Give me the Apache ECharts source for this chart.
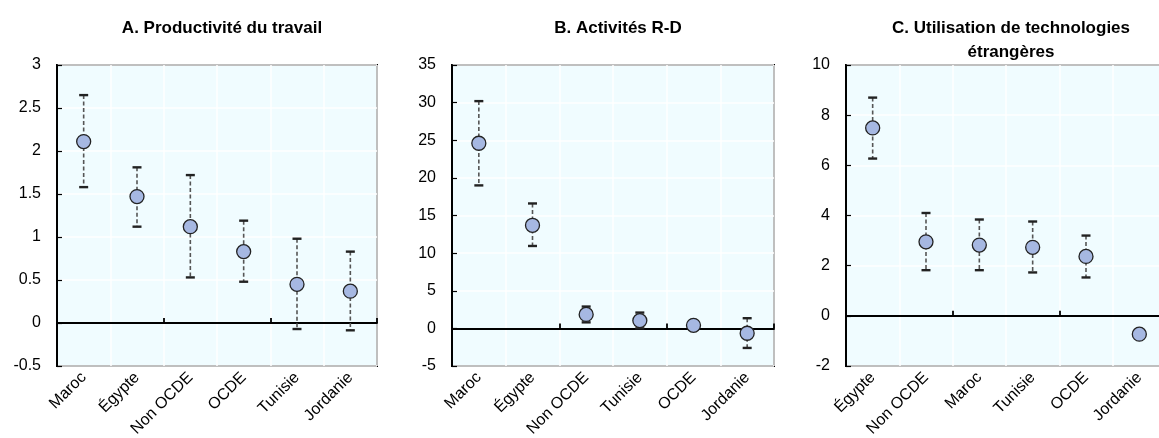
<!DOCTYPE html>
<html>
<head>
<meta charset="utf-8">
<script src="https://cdn.jsdelivr.net/npm/echarts@6/dist/echarts.min.js"></script>
<style>
html,body{margin:0;padding:0;background:#fff;}
#chart{width:1159px;height:438px;}
</style>
</head>
<body>
<div id="chart"></div>
<script>
// Panel A. Productivité du travail
const catsA = ['Maroc', 'Égypte', 'Non OCDE', 'OCDE', 'Tunisie', 'Jordanie'];
const valA  = [2.11, 1.47, 1.12, 0.83, 0.45, 0.37];
const lowA  = [1.58, 1.12, 0.53, 0.48, -0.07, -0.085];
const highA = [2.65, 1.81, 1.72, 1.19, 0.98, 0.83];

// Panel B. Activités R-D
const catsB = ['Maroc', 'Égypte', 'Non OCDE', 'Tunisie', 'OCDE', 'Jordanie'];
const valB  = [24.6, 13.7, 1.85, 1.03, 0.4, -0.65];
const lowB  = [19.0, 10.95, 0.8, 0.0, -0.2, -2.6];
const highB = [30.2, 16.6, 2.9, 2.1, 1.0, 1.35];

// Panel C. Utilisation de technologies étrangères
const catsC = ['Égypte', 'Non OCDE', 'Maroc', 'Tunisie', 'OCDE', 'Jordanie'];
const valC  = [7.49, 2.95, 2.82, 2.73, 2.37, -0.73];
const lowC  = [6.27, 1.82, 1.82, 1.73, 1.53, null];
const highC = [8.7, 4.1, 3.84, 3.76, 3.2, null];

const titles = ['A. Productivité du travail', 'B. Activités R-D', 'C. Utilisation de technologies\nétrangères'];
const yMin = [-0.5, -5, -2];
const yMax = [3, 35, 10];
const yInt = [0.5, 5, 2];

const panels = [
  {cats: catsA, val: valA, low: lowA, high: highA},
  {cats: catsB, val: valB, low: lowB, high: highB},
  {cats: catsC, val: valC, low: lowC, high: highC}
];

const gridLayout = [
  {left: 57, width: 320},
  {left: 452, width: 322},
  {left: 846, width: 320}
];

const FONT = '"Liberation Sans", Arial, sans-serif';

function renderErr(params, api) {
  const lo = api.value(1), hi = api.value(2);
  if (lo == null || hi == null || isNaN(lo) || isNaN(hi)) return;
  const t = api.coord([api.value(0), hi]);
  const b = api.coord([api.value(0), lo]);
  const w = 9;
  return {
    type: 'group',
    children: [
      {type: 'line', shape: {x1: t[0], y1: t[1], x2: b[0], y2: b[1]},
       style: {stroke: '#555', lineWidth: 1.6, lineDash: [4, 2.5]}},
      {type: 'line', shape: {x1: t[0] - w / 2, y1: t[1], x2: t[0] + w / 2, y2: t[1]},
       style: {stroke: '#222', lineWidth: 2.4}},
      {type: 'line', shape: {x1: b[0] - w / 2, y1: b[1], x2: b[0] + w / 2, y2: b[1]},
       style: {stroke: '#222', lineWidth: 2.4}}
    ]
  };
}

const option = {
  animation: false,
  backgroundColor: '#fff',
  textStyle: {fontFamily: FONT},
  title: [], grid: [], xAxis: [], yAxis: [], series: []
};

panels.forEach((p, i) => {
  const g = gridLayout[i];
  option.title.push({
    text: titles[i],
    left: g.left + g.width / 2,
    top: 11,
    textAlign: 'center',
    textStyle: {fontFamily: FONT, fontSize: 17, fontWeight: 'bold', color: '#000', lineHeight: 24}
  });
  option.grid.push({
    left: g.left, width: g.width, top: 65, height: 301,
    outerBoundsMode: 'none', containLabel: false,
    show: true, backgroundColor: '#F0FCFF', borderColor: '#000', borderWidth: 2
  });
  // label axis at bottom
  option.xAxis.push({
    type: 'category', gridIndex: i, data: p.cats, position: 'bottom',
    axisLine: {show: false, onZero: false},
    axisTick: {show: false},
    splitLine: {show: true, lineStyle: {color: '#ffffff', width: 1.5}},
    axisLabel: {rotate: 45, margin: 9, color: '#000', fontSize: 16, fontFamily: FONT, interval: 0}
  });
  // zero line with ticks
  option.xAxis.push({
    type: 'category', gridIndex: i, data: p.cats, position: 'top',
    axisLine: {show: true, onZero: true, lineStyle: {color: '#000', width: 1.8}},
    axisTick: {show: true, inside: false, length: 5, lineStyle: {color: '#000', width: 1.8}},
    axisLabel: {show: false},
    splitLine: {show: false}
  });
  option.yAxis.push({
    type: 'value', gridIndex: i, min: yMin[i], max: yMax[i], interval: yInt[i],
    axisLine: {show: true, lineStyle: {color: '#000', width: 2}},
    axisTick: {show: true, inside: true, length: 5, lineStyle: {color: '#000', width: 1.2}},
    splitLine: {show: true, lineStyle: {color: '#ffffff', width: 1.5}},
    axisLabel: {color: '#000', fontSize: 16, fontFamily: FONT, margin: 16}
  });
  const errData = p.cats.map((c, k) => [k, p.low[k], p.high[k]]);
  option.series.push({
    type: 'custom', xAxisIndex: 2 * i, yAxisIndex: i,
    renderItem: renderErr, data: errData, encode: {x: 0, y: [1, 2]}, z: 3
  });
  option.series.push({
    type: 'scatter', xAxisIndex: 2 * i, yAxisIndex: i,
    data: p.val, symbol: 'circle', symbolSize: 14,
    itemStyle: {color: '#A6B8E2', borderColor: '#222', borderWidth: 1.3, opacity: 1},
    z: 5
  });
});

const chart = echarts.init(document.getElementById('chart'), null, {renderer: 'canvas'});
chart.setOption(option);
</script>
</body>
</html>
